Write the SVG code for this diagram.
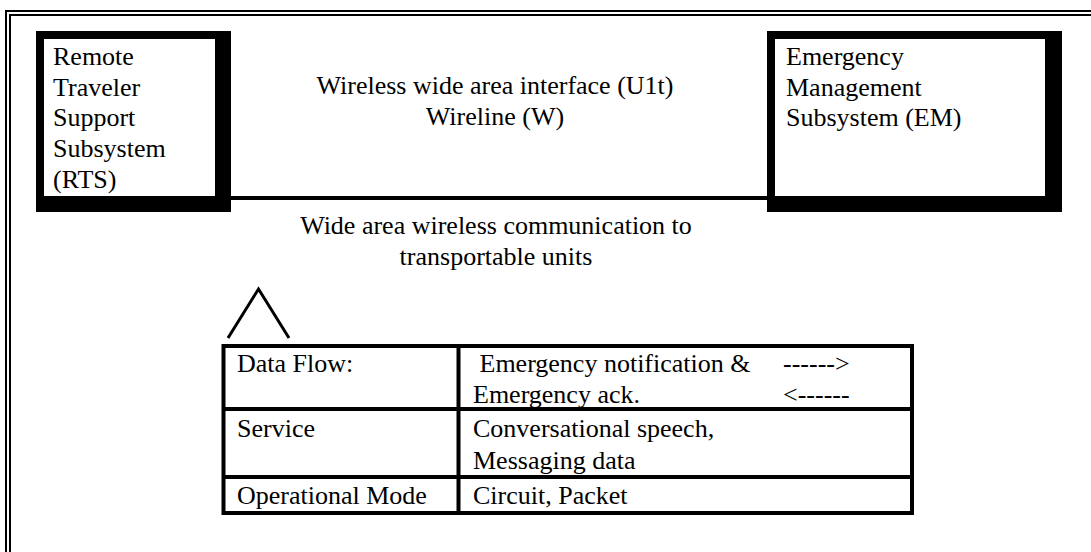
<svg xmlns="http://www.w3.org/2000/svg" width="1091" height="552" viewBox="0 0 1091 552">
<style>
text{font-family:"Liberation Serif","Times New Roman",serif;font-size:26px;fill:#000}
.c{text-anchor:middle}
.ln{stroke:#000;fill:none}
</style>
<rect width="1091" height="552" fill="#fff"/>
<g id="frame">
<rect x="5" y="10" width="1086" height="2" fill="#000"/>
<rect x="5" y="10" width="2" height="542" fill="#000"/>
<rect x="9" y="14" width="1082" height="2" fill="#000"/>
<rect x="9" y="14" width="2" height="538" fill="#000"/>
</g>
<g id="connectors">
<rect x="231" y="196" width="536" height="4" fill="#000"/>
<polyline class="ln" points="228,338 258.5,289 289,338" stroke-width="3"/>
</g>
<g id="rts">
<rect x="36" y="31" width="195" height="181" fill="#000"/>
<rect x="44" y="39" width="171" height="157" fill="#fff"/>
<text x="53" y="65">Remote</text>
<text x="53" y="95.7">Traveler</text>
<text x="53" y="126.4">Support</text>
<text x="53" y="157.1">Subsystem</text>
<text x="53" y="187.8">(RTS)</text>
</g>
<g id="em">
<rect x="767" y="31" width="295" height="181" fill="#000"/>
<rect x="775" y="39" width="270" height="157" fill="#fff"/>
<text x="786" y="65">Emergency</text>
<text x="786" y="95.7">Management</text>
<text x="786" y="126.4">Subsystem (EM)</text>
</g>
<g id="interface-label">
<text class="c" x="495" y="94">Wireless wide area interface (U1t)</text>
<text class="c" x="495" y="124.5">Wireline (W)</text>
</g>
<g id="comm-label">
<text class="c" x="496" y="234">Wide area wireless communication to</text>
<text class="c" x="496" y="265">transportable units</text>
</g>
<g id="table">
<rect class="ln" x="223.5" y="346" width="688.5" height="167" stroke-width="4"/>
<line class="ln" x1="458.5" y1="346" x2="458.5" y2="513" stroke-width="4"/>
<line class="ln" x1="223.5" y1="409" x2="912" y2="409" stroke-width="4"/>
<line class="ln" x1="223.5" y1="477" x2="912" y2="477" stroke-width="4"/>
<text x="237" y="372">Data Flow:</text>
<text x="473" y="372" xml:space="preserve"> Emergency notification &amp;</text>
<text x="783" y="372">------&gt;</text>
<text x="473" y="403">Emergency ack.</text>
<text x="783" y="403">&lt;------</text>
<text x="237" y="437">Service</text>
<text x="473" y="437">Conversational speech,</text>
<text x="473" y="469">Messaging data</text>
<text x="237" y="504">Operational Mode</text>
<text x="473" y="504">Circuit, Packet</text>
</g>
</svg>
